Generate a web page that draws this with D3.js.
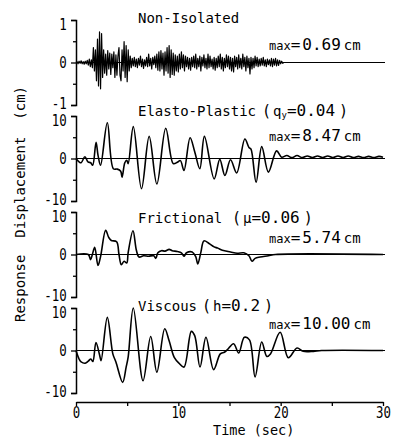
<!DOCTYPE html>
<html>
<head>
<meta charset="utf-8">
<script src="https://cdn.jsdelivr.net/npm/d3@7"></script>
<style>
  body { margin: 0; background: #fff; }
  text { font-family: "DejaVu Sans Mono", monospace; fill: #000; }
</style>
</head>
<body>
<svg id="chart" width="398" height="438"></svg>
<script>
// ---- data ----
const panelNames = ["Non-Isolated", "Elasto-Plastic", "Frictional", "Viscous"];
const paramSymbols = [null, "q", "\u03bc", "h"];
const paramSubs = [null, "y", null, null];
const paramValues = [null, "0.04", "0.06", "0.2"];
const maxLabels = ["0.69", "8.47", "5.74", "10.00"];
const yLimits = [1, 10, 10, 10];
const xTicks = [0, 5, 10, 15, 20, 25, 30];

// non-isolated response, sampled every 0.1 s (0 .. 20.3 s)
const nonIsoValues = [
  0, 0.02, -0.03, 0.03, -0.02, 0.04, -0.03, 0.02, -0.04, 0.03,
  -0.03, 0.05, -0.06, 0.08, -0.1, 0.06, -0.12, 0.35, -0.2, 0.3,
  -0.43, 0.55, -0.55, 0.72, -0.62, 0.68, -0.35, 0.3, -0.25, 0.2,
  -0.3, 0.28, -0.15, 0.22, -0.28, 0.2, -0.12, 0.25, -0.35, 0.18,
  -0.3, 0.15, 0.35, -0.3, -0.43, 0.3, -0.2, 0.49, -0.35, 0.4,
  -0.45, 0.3, -0.2, 0.15, -0.12, 0.1, -0.08, 0.12, -0.1, 0.08,
  -0.12, 0.1, -0.06, 0.15, -0.1, 0.08, -0.14, 0.06, -0.08, 0.12,
  -0.1, 0.2, -0.08, 0.1, -0.15, 0.12, -0.05, 0.15, -0.12, 0.2,
  -0.18, 0.25, -0.2, 0.28, -0.15, 0.22, -0.3, 0.25, -0.2, 0.35,
  -0.25, 0.4, -0.35, 0.3, -0.28, 0.22, -0.3, 0.18, -0.2, 0.15,
  -0.22, 0.2, -0.15, 0.25, -0.12, 0.18, -0.2, 0.15, -0.1, 0.12,
  -0.15, 0.1, -0.18, 0.12, -0.1, 0.15, -0.12, 0.2, -0.15, 0.1,
  -0.1, 0.15, -0.2, 0.12, -0.08, 0.18, -0.12, 0.1, -0.15, 0.2,
  -0.12, 0.15, -0.1, 0.08, -0.15, 0.12, -0.18, 0.1, -0.12, 0.15,
  -0.1, 0.2, -0.15, 0.12, -0.2, 0.1, -0.12, 0.18, -0.1, 0.15,
  -0.15, 0.12, -0.2, 0.1, -0.22, 0.15, -0.1, 0.12, -0.15, 0.18,
  -0.12, 0.1, -0.15, 0.2, -0.1, 0.12, -0.2, 0.15, -0.12, 0.1,
  -0.27, 0.12, -0.15, 0.1, -0.12, 0.15, -0.08, 0.12, -0.1, 0.08,
  -0.08, 0.1, -0.06, 0.12, -0.08, 0.06, -0.1, 0.08, -0.05, 0.06,
  -0.08, 0.1, -0.1, 0.08, -0.06, 0.1, -0.08, 0.06, -0.07, 0.05,
  -0.03, 0.03, -0.02, 0
];
const nonIsolated = nonIsoValues.map((v, i) => [i / 10, v]).concat([[30, 0]]);

// [time (s), displacement (cm)]
const elastoPlastic = [
  [0, 0], [0.3, -0.8], [0.5, -1.0], [0.87, 0.4], [1.17, -0.8], [1.43, -1.0], [1.63, -1.6],
  [1.96, 3.8], [2.15, 0.8], [2.4, -1.6], [3.06, 8.4], [3.65, -2.4], [4.04, -2.5], [4.37, -3.0],
  [4.5, -4.4], [4.77, -1.0], [4.96, -0.4], [5.1, -1.2], [5.6, 7.5], [6.4, -7.1], [7.15, 5.2],
  [7.9, -6.0], [8.77, 7.1], [9.5, -1.2], [9.9, -0.9], [10.2, -0.5], [10.55, -2.8], [11.15, 4.9],
  [11.6, 1.6], [12.1, -2.4], [12.55, 5.2], [13.5, -4.8], [14.05, -0.2], [14.55, -4.0],
  [15.1, -0.3], [15.7, -3.4], [16.5, 4.6], [16.9, 2.6], [17.1, 2.2], [17.6, -5.6], [18.15, 2.8],
  [18.8, -3.2], [19.6, 1.8], [20.1, 0.3], [20.6, 0.7], [21.1, 0.2], [21.6, 0.7], [22.1, 0.2],
  [22.6, 0.6], [23.1, 0.2], [23.6, 0.6], [24.1, 0.2], [24.6, 0.6], [25.1, 0.2], [25.6, 0.6],
  [26.1, 0.2], [26.6, 0.6], [27.1, 0.2], [27.6, 0.5], [28.1, 0.2], [28.6, 0.5], [29.1, 0.2],
  [29.6, 0.5], [30, 0.3]
];

const frictional = [
  [0, 0], [1.2, 0], [1.43, -1.2], [1.6, 0], [1.83, 1.7], [2.15, -2.6], [2.4, -0.5], [2.9, 5.7],
  [3.2, 4.0], [3.45, 3.3], [3.97, 3.0], [4.2, 0], [4.43, -2.4], [4.7, -1.6], [4.96, -2.0],
  [5.1, 0.5], [5.57, 5.6], [5.9, 1.0], [6.16, -0.6], [6.6, -0.3], [7.1, -0.4], [7.6, -0.3],
  [7.8, -0.9], [8.0, 0.4], [8.35, 0.9], [8.7, 0.8], [9.1, 1.2], [9.4, 0.9], [9.9, 0.7],
  [10.3, 0.4], [10.55, -0.4], [10.8, 0.4], [11.35, 0.6], [11.7, -0.5], [11.9, -2.2],
  [12.2, 0.5], [12.5, 3.2], [13.0, 2.6], [13.5, 1.8], [13.85, 1.5], [14.3, 1.0], [15.1, 0.6],
  [15.75, 0.3], [16.4, 0.4], [16.9, -0.3], [17.2, -1.6], [17.5, -0.9], [18.0, -0.6],
  [18.8, -0.3], [19.5, 0], [30, 0]
];

const viscous = [
  [0, 0], [0.3, -2.0], [0.5, -2.7], [0.9, -3.0], [1.2, -2.5], [1.45, -2.0], [1.65, -2.6],
  [1.95, 1.9], [2.3, -1.0], [2.45, -2.4], [3.06, 7.8], [3.6, -0.8], [3.9, -2.7], [4.56, -7.5],
  [4.9, -3.9], [5.1, -1.5], [5.6, 10.0], [6.55, -7.1], [7.3, 3.3], [7.9, -5.1], [8.67, 5.1],
  [9.1, 2.3], [9.6, -1.6], [10.07, -3.0], [10.55, -3.9], [11.27, 4.5], [11.6, 3.5],
  [12.12, -3.9], [12.7, 3.1], [13.45, -4.5], [14.1, -0.8], [14.5, -0.4], [14.8, 0.2],
  [15.4, 1.6], [15.9, -0.6], [16.45, 3.1], [16.95, 2.5], [17.5, -6.2], [18.15, 2.0],
  [18.65, -1.4], [19.0, -0.8], [19.95, 4.3], [20.75, -1.7], [21.6, 0.6], [22.2, -0.2],
  [23.2, -0.2], [24, 0], [30, 0]
];

const series = [nonIsolated, elastoPlastic, frictional, viscous];

// ---- layout ----
const panelTops = [20, 116, 212, 308];
const panelHeight = 85;
const titleBaselines = [23, 116, 223, 311];
const parenX = [null, 262, 232, 202];
const maxBaselines = [50, 141, 243, 329];

const svg = d3.select('#chart');
const x = d3.scaleLinear().domain([0, 30]).range([76, 383]);

series.forEach((data, i) => {
    const lim = yLimits[i];
    const y = d3.scaleLinear()
        .domain([-lim, lim])
        .range([panelTops[i] + panelHeight, panelTops[i]]);
    const g = svg.append('g');

    // zero line
    g.append('line')
        .attr('x1', x(0)).attr('x2', x(30) + 2)
        .attr('y1', y(0)).attr('y2', y(0))
        .attr('stroke', '#000').attr('stroke-width', 1.2);

    const axis = d3.axisLeft(y)
        .tickValues([-lim, -lim / 2, 0, lim / 2, lim])
        .tickSize(5).tickSizeOuter(5)
        .tickFormat(d => Math.abs(d) === lim / 2 ? '' : (d < 0 ? '-' + Math.abs(d) : d));
    const ag = g.append('g')
        .attr('transform', `translate(${x(0)},0)`)
        .call(axis);
    ag.attr('font-family', null);
    ag.select('.domain').attr('stroke-width', 1.5);
    ag.selectAll('.tick line').attr('stroke-width', 1.3);
    ag.selectAll('.tick').filter(d => Math.abs(d) === lim / 2)
        .select('line').attr('x2', -3);
    // top labels sit a little below their tick, bottom ones a little above
    ag.selectAll('.tick text')
        .attr('font-size', 16)
        .attr('x', -12)
        .attr('y', d => d === lim ? 4 : (d === -lim ? -1.5 : 0))
        .attr('transform', 'scale(0.78,1)');

    const line = d3.line()
        .x(d => x(d[0]))
        .y(d => y(d[1]))
        .curve(i === 0 ? d3.curveLinear : d3.curveCatmullRom.alpha(0.5));
    g.append('path')
        .datum(data)
        .attr('d', line)
        .attr('fill', 'none')
        .attr('stroke', '#000')
        .attr('stroke-width', i === 0 ? 1.2 : 1.6)
        .attr('stroke-linejoin', 'round');

    // title
    const t = svg.append('text')
        .attr('x', 138).attr('y', titleBaselines[i])
        .attr('font-size', 14);
    t.append('tspan').text(panelNames[i]);
    if (paramSymbols[i]) {
        t.append('tspan').attr('x', parenX[i]).attr('font-size', 15).text('(');
        t.append('tspan').attr('dx', 2).text(paramSymbols[i]);
        if (paramSubs[i]) {
            t.append('tspan').attr('font-size', 9).attr('dy', 2).text(paramSubs[i]);
        }
        t.append('tspan').attr('font-size', 16).attr('dy', paramSubs[i] ? -2 : 0).text('=');
        t.append('tspan').attr('font-size', 16).text(paramValues[i]);
        t.append('tspan').attr('dx', 4).attr('font-size', 15).text(')');
    }

    // max label
    const m = svg.append('text')
        .attr('x', 269).attr('y', maxBaselines[i]);
    m.append('tspan').attr('font-size', 12).text('max');
    m.append('tspan').attr('font-size', 16).text('=');
    m.append('tspan').attr('font-size', 16).attr('dx', 2).text(maxLabels[i]);
    m.append('tspan').attr('font-size', 14).attr('dx', 3).text('cm');
});

// time axis
const xAxis = d3.axisBottom(x)
    .tickValues(xTicks)
    .tickSize(4).tickSizeOuter(0).tickPadding(1)
    .tickFormat(d => d % 10 === 0 ? d : '');
const xg = svg.append('g')
    .attr('transform', 'translate(0,402)')
    .call(xAxis);
xg.attr('font-family', null);
xg.select('.domain').attr('stroke-width', 1.5);
xg.selectAll('.tick line').attr('stroke-width', 1.3);
xg.selectAll('.tick text')
    .attr('font-size', 15.5)
    .attr('transform', 'scale(0.8,1)')
    .attr('x', 0);

svg.append('text')
    .attr('x', 213).attr('y', 434.5)
    .attr('font-size', 13.5)
    .text('Time (sec)');

svg.append('text')
    .attr('transform', 'translate(25,204) rotate(-90)')
    .attr('text-anchor', 'middle')
    .attr('font-size', 14)
    .style('white-space', 'pre')
    .text('Response  Displacement  (cm)');
</script>
</body>
</html>
